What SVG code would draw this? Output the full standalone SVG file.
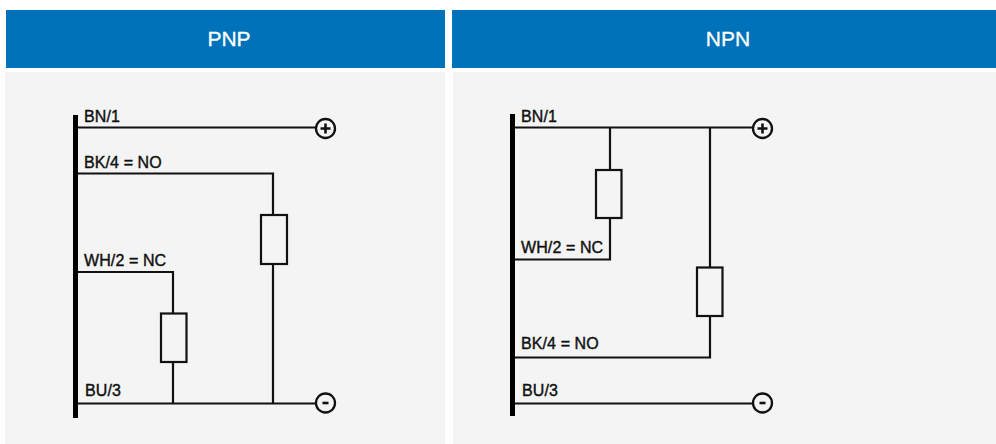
<svg xmlns="http://www.w3.org/2000/svg" width="996" height="444" viewBox="0 0 996 444">
<style>
.hd{fill:#0072b9}
.pn{fill:#f4f4f4}
.ht{font:21px "Liberation Sans",Arial,sans-serif;fill:#fff;stroke:#fff;stroke-width:.3;text-anchor:middle}
.lb{font:16px "Liberation Sans",Arial,sans-serif;fill:#111;stroke:#111;stroke-width:.4;letter-spacing:.1px}
.w{fill:none;stroke:#111;stroke-width:2.2}
.r{fill:#f4f4f4;stroke:#111;stroke-width:2.2}
.c{fill:#f4f4f4;stroke:#111;stroke-width:2.3}
.bar{fill:#000}
.s{fill:none;stroke:#111;stroke-width:2.6}
</style>
<rect width="996" height="444" fill="#fff"/>
<g id="panel-pnp">
<rect class="pn" x="5" y="72" width="440" height="372"/>
<rect class="hd" x="6" y="10" width="439" height="58"/>
<text class="ht" x="229" y="46">PNP</text>
</g>
<g id="panel-npn">
<rect class="pn" x="453" y="72" width="543" height="372"/>
<rect class="hd" x="452" y="10" width="544" height="58"/>
<text class="ht" x="728" y="46">NPN</text>
</g>
<g id="connectors">
<path class="w" d="M78 127.500H316M78 173.500H273V215M273 264V403.500M78 272H173V313.500M173 362V403.500M78 403.500H316"/>
<path class="w" d="M515 127.500H753M610 127.500V170M610 218V259.500H515M710 127.500V267.500M710 316V357.500H515M515 403.500H753"/>
</g>
<g id="bar-pnp"><rect class="bar" x="73" y="115" width="5" height="303"/></g>
<g id="bar-npn"><rect class="bar" x="510" y="114" width="5" height="302"/></g>
<g id="label-pnp-bn"><text class="lb" x="84" y="122">BN/1</text></g>
<g id="label-pnp-bk"><text class="lb" x="84" y="168">BK/4 = NO</text></g>
<g id="label-pnp-wh"><text class="lb" x="84" y="266">WH/2 = NC</text></g>
<g id="label-pnp-bu"><text class="lb" x="85" y="396">BU/3</text></g>
<g id="label-npn-bn"><text class="lb" x="521" y="122">BN/1</text></g>
<g id="label-npn-wh"><text class="lb" x="521" y="253">WH/2 = NC</text></g>
<g id="label-npn-bk"><text class="lb" x="521" y="349">BK/4 = NO</text></g>
<g id="label-npn-bu"><text class="lb" x="522" y="396">BU/3</text></g>
<g id="res-pnp-no"><rect class="r" x="261" y="215" width="26" height="49"/></g>
<g id="res-pnp-nc"><rect class="r" x="161" y="313.500" width="25.500" height="48.500"/></g>
<g id="res-npn-nc"><rect class="r" x="596" y="170" width="25.500" height="48"/></g>
<g id="res-npn-no"><rect class="r" x="697" y="267.500" width="25.500" height="48.500"/></g>
<g id="plus-pnp"><circle class="c" cx="325.500" cy="128.500" r="9.500"/><path class="s" d="M320.500 128.500H330.500M325.500 123.500V133.500"/></g>
<g id="minus-pnp"><circle class="c" cx="325.500" cy="403" r="9.500"/><path class="s" d="M322.500 403H328.500"/></g>
<g id="plus-npn"><circle class="c" cx="762.500" cy="128.500" r="9.500"/><path class="s" d="M757.500 128.500H767.500M762.500 123.500V133.500"/></g>
<g id="minus-npn"><circle class="c" cx="762.500" cy="403" r="9.500"/><path class="s" d="M759.500 403H765.500"/></g>
</svg>
